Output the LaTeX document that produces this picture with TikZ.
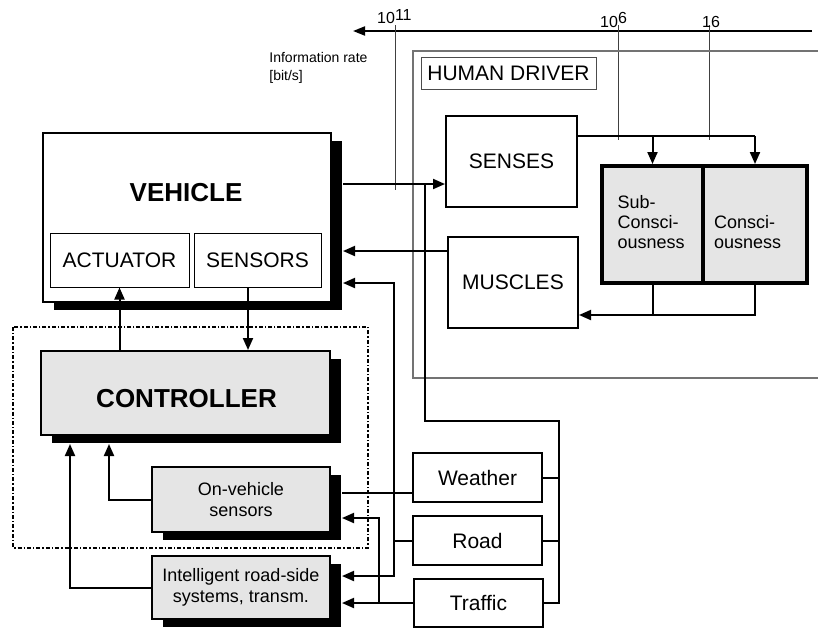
\documentclass[tikz,border=0pt]{standalone}
\usepackage{fontspec}
\setmainfont{Liberation Sans}
\usepackage{xcolor}
\usetikzlibrary{arrows.meta,shadows}

\definecolor{boxgray}{gray}{0.9}
\definecolor{linegray}{gray}{0.45}

\begin{document}
\begin{tikzpicture}[x=0.5pt, y=-0.5pt, >={Triangle[length=6pt,width=5pt]},
  box/.style={draw, line width=1pt, inner sep=0pt, align=center, font=\fontsize{10.5}{12.5}\selectfont},
  thinbox/.style={box, line width=0.5pt},
  shadowed/.style={drop shadow={shadow xshift=5.5pt, shadow yshift=-4pt, fill=black, opacity=1}},
  graybox/.style={box, fill=boxgray, shadowed, font=\fontsize{9}{10.5}\selectfont},
  mindbox/.style={box, line width=2pt, fill=boxgray},
  mindtext/.style={align=left, inner sep=0pt, text width=#1, font=\fontsize{9}{10}\selectfont},
  bigtext/.style={font=\bfseries\fontsize{13}{15}\selectfont},
  ticklbl/.style={font=\fontsize{8}{9}\selectfont, inner sep=0pt},
  tick/.style={draw=black!75, line width=0.5pt},
  conn/.style={line width=1pt},
  arr/.style={conn, ->}]
\useasboundingbox (0,0) rectangle (818,628);
% pixel grid: 1 unit = 0.5pt, y downwards
% information rate axis
\coordinate (axR) at (812,31);
\coordinate (axL) at (353,31);
\draw[line width=1pt, -{Triangle[length=6pt,width=4.5pt]}] (axR) -- (axL);
\foreach \x/\b in {395/190, 618/140, 709/140} {\draw[tick] (\x,25) -- (\x,\b);}
\node[ticklbl, anchor=base] (r11) at (395,23) {\llap{10}\rlap{\raisebox{1.5pt}{11}}};
\node[ticklbl, anchor=base] (r6) at (618,27) {\llap{10}\rlap{\raisebox{2pt}{6}}};
\node[ticklbl, anchor=base] (r16) at (711,27) {16};
\node[ticklbl, align=left, anchor=north west, font=\fontsize{7}{9}\selectfont] (inforate) at (269,52) {Information rate\\{}[bit/s]};

% human driver
\draw[linegray, line width=0.6pt] (818,51) -- (413,51) -- (413,378) -- (818,378);
\node[thinbox, draw=black!70, minimum width=87.5pt, minimum height=16pt] (hdriver) at (508.5,73) {HUMAN DRIVER};
\node[box, minimum width=65.5pt, minimum height=45.5pt] (senses) at (511.5,161.5) {SENSES};
\node[box, minimum width=65pt, minimum height=45.5pt] (muscles) at (513,282.5) {MUSCLES};
\node[mindbox, minimum width=50.5pt, minimum height=58.5pt] (subcon) at (652.5,224.5) {};
\node[mindbox, minimum width=52pt, minimum height=58.5pt] (cons) at (755,224.5) {};
\node[mindtext=35pt] (subcontext) at (652.5,222.5) {Sub-\\Consci-\\ousness};
\node[mindtext=41pt] (constext) at (755,232) {Consci-\\ousness};

% vehicle and controller
\node[box, fill=white, shadowed, minimum width=144pt, minimum height=84.5pt] (vehicle) at (187,217.5) {};
\node[bigtext] (vehtitle) at (186,193) {VEHICLE};
\node[thinbox, minimum width=69.5pt, minimum height=27pt] (actuator) at (119.5,260) {ACTUATOR};
\node[thinbox, minimum width=63.5pt, minimum height=27pt] (sensors) at (257.5,260) {SENSORS};
\draw[line width=0.7pt, dash pattern=on 2pt off 1pt on 0.7pt off 1pt] (13,327) rectangle (368,548);
\node[box, fill=boxgray, shadowed, minimum width=144.5pt, minimum height=42pt] (controller) at (185.5,393) {};
\node[bigtext] (ctrltitle) at (186.5,399) {CONTROLLER};
\node[graybox, minimum width=89pt, minimum height=32.5pt] (onveh) at (241,499.5) {On-vehicle\\sensors};
\node[graybox, minimum width=89pt, minimum height=31.5pt] (irs) at (241,587.5) {Intelligent road-side\\systems, transm.};

% environment
\node[box, minimum width=64.5pt, minimum height=24.5pt] (weather) at (477.5,477.5) {Weather};
\node[box, minimum width=64.5pt, minimum height=24.5pt] (road) at (477.5,540.5) {Road};
\node[box, minimum width=64.5pt, minimum height=24pt] (traffic) at (478.5,603) {Traffic};

\coordinate (vehR) at ([xshift=5.5pt]vehicle.east);
\coordinate (onvR) at ([xshift=5.5pt]onveh.east);
\coordinate (irsR) at ([xshift=5.5pt]irs.east);
\coordinate (ctrlB) at ([yshift=-4pt]controller.south);
\coordinate (sensB) at ([xshift=-4.75pt]sensors.south);
\coordinate (jS) at (425,184);
\coordinate (busE) at (559,421);

\draw[arr] (vehR |- jS) -- (senses.west |- jS);
\draw[arr] (muscles.west |- 0,251) -- (vehR |- 0,251);
\draw[conn] (senses.east |- 0,136) -- (cons.north |- 0,136);
\draw[arr] (subcon.north |- 0,136) -- (subcon.north);
\draw[arr] (cons.north |- 0,136) -- (cons.north);
\draw[conn] (subcon.south) -- (subcon.south |- 0,315);
\draw[arr] (cons.south) |- (muscles.east |- 0,315);

\draw[arr] (controller.north -| actuator.south) -- (actuator.south);
\draw[arr] (sensB) -- (sensB |- controller.north);
\draw[arr] (onveh.west) -| (ctrlB -| 109,0);
\draw[arr] (irs.west) -| (ctrlB -| 70,0);

\draw[conn] (weather.west |- 0,493) -- (onvR |- 0,493);
\draw[arr] (road.west) -| (394,283) -- (vehR |- 0,283);
\draw[arr] (road.west) -| (394,576) -- (irsR |- 0,576);
\draw[arr] (traffic.west) -- (irsR |- traffic.west);
\draw[arr] (traffic.west -| 379,0) |- (onvR |- 0,518);
\draw[conn] (traffic.east) -| (busE) -| (jS);
\draw[conn] (weather.east) -- (weather.east -| busE);
\draw[conn] (road.east) -- (road.east -| busE);
\end{tikzpicture}
\end{document}
